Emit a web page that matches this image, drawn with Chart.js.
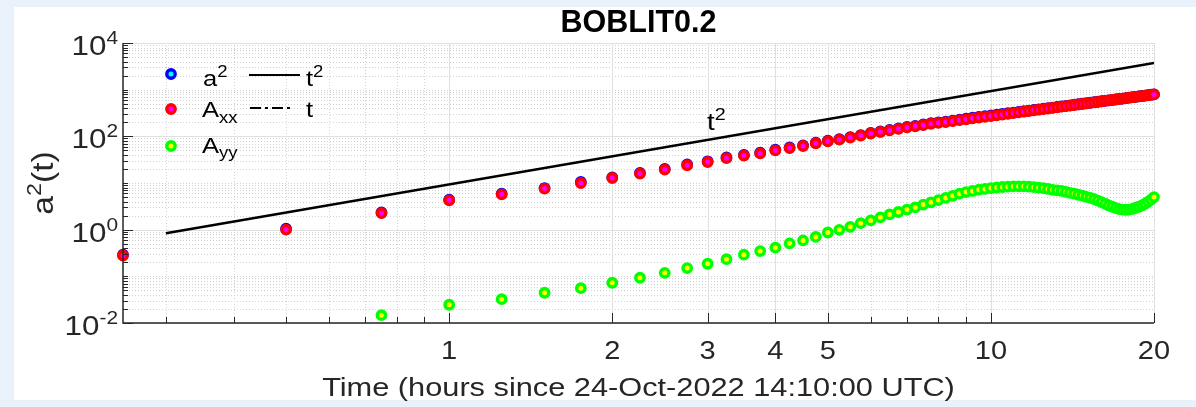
<!DOCTYPE html>
<html>
<head>
<meta charset="utf-8">
<title>BOBLIT0.2</title>
<script src="https://cdn.jsdelivr.net/npm/chart.js@4.4.1/dist/chart.umd.min.js"></script>
<style>
  html, body { margin: 0; padding: 0; background: #ffffff; }
  canvas { display: block; }
</style>
</head>
<body>
<canvas id="chart" width="1196" height="407"></canvas>
<script>
// Sample times (hours since 24-Oct-2022 14:10:00 UTC), every 15 minutes
const hours = [0.25,0.5,0.75,1,1.25,1.5,1.75,2,2.25,2.5,2.75,3,3.25,3.5,3.75,4,4.25,4.5,4.75,5,
  5.25,5.5,5.75,6,6.25,6.5,6.75,7,7.25,7.5,7.75,8,8.25,8.5,8.75,9,9.25,9.5,9.75,10,
  10.25,10.5,10.75,11,11.25,11.5,11.75,12,12.25,12.5,12.75,13,13.25,13.5,13.75,14,14.25,14.5,14.75,15,
  15.25,15.5,15.75,16,16.25,16.5,16.75,17,17.25,17.5,17.75,18,18.25,18.5,18.75,19,19.25,19.5,19.75,20];

// Total spread a^2
const a2 = [0.29,1.05,2.33,4.4,5.9,7.8,10.5,13.2,16.4,20.0,25.0,29.2,35.3,40.0,44.6,51.6,57.7,64,73,80.5,
  87,96.5,106.5,118,127,137,148.5,159,168,179.5,191,200,207,217,228.5,239,250,259.5,270,280,
  290,301,312,323,334.5,345.5,357,368,380,391,402.5,414,426,439,450.5,462,475,487.5,499.5,512,
  525,538.5,551,564,577.5,591.5,604,618,632,645.5,660.5,674.5,689,704,718,733.5,748.5,764,779.5,795];

// Along-x component A_xx
const Axx = [0.28,1.0,2.27,4.25,5.72,7.59,10.0,12.8,15.9,19.4,24.0,28.2,34,38.7,43,50,56,62,71,78.5,
  85,94,104,115,124,134,145,155,164,175,186,195,202,211,222,232,243,252,262,272,
  282,293,304,315,326,337,349,360,372,383,395,407,419,432,444,456,469,482,494,507,
  520,534,547,560,574,588,601,615,629,643,658,672,686,701,715,730,745,760,775,790];

// Along-y component A_yy (first two samples fall below the axis range)
const Ayy = [null,null,0.0147,0.0246,0.0324,0.0445,0.0558,0.0729,0.0933,0.119,0.150,0.186,0.233,0.291,0.347,0.411,0.51,0.589,0.70,0.87,
  0.99,1.15,1.38,1.58,1.84,2.12,2.39,2.69,3.0,3.45,3.85,4.3,4.8,5.3,5.9,6.4,6.75,7.2,7.45,7.8,
  8.0,8.2,8.35,8.45,8.5,8.5,8.35,8.15,7.95,7.75,7.45,7.15,6.95,6.75,6.45,6.15,5.9,5.6,5.35,5.05,
  4.8,4.5,4.2,3.9,3.6,3.3,3.1,2.9,2.75,2.7,2.67,2.7,2.8,2.95,3.1,3.3,3.6,3.95,4.4,5.0];

// Reference t^2 power law
const fitT = [0.3, 20];
const fitY = [0.84, 3720];

// Axis ticks
const xTickValues = [1, 2, 3, 4, 5, 10, 20];
const xTickLabels = ['1', '2', '3', '4', '5', '10', '20'];
const xMinorValues = [0.3, 0.4, 0.5, 0.6, 0.7, 0.8, 0.9, 6, 7, 8, 9];
const yTickValues = [0.01, 1, 100, 10000];
const yTickExponents = ['-2', '0', '2', '4'];

const FONT = '"Liberation Sans", Arial, Helvetica, sans-serif';
const TEXT = '#262626';
const SX = 1.16; // horizontal text stretch

const styles = {
  a2:  { edge: '#0000ff', fill: '#00ffff' },
  Axx: { edge: '#ff0000', fill: '#ff00ff' },
  Ayy: { edge: '#00ff00', fill: '#ffff00' }
};
const MARK_R = 4.2, MARK_W = 3.4;

function pts(ys) {
  const out = [];
  hours.forEach((t, i) => { if (ys[i] !== null) out.push({ x: t, y: ys[i] }); });
  return out;
}

// Rich text: parts = [{t, size, dy, bold}], drawn at baseline y
function rich(ctx, parts, x, y, align, color, sx) {
  const k = sx || SX;
  ctx.save();
  let w = 0;
  parts.forEach(p => {
    ctx.font = (p.bold ? 'bold ' : '') + p.size + 'px ' + FONT;
    p.w = ctx.measureText(p.t).width * k;
    w += p.w;
  });
  let cx = x;
  if (align === 'center') cx = x - w / 2;
  else if (align === 'right') cx = x - w;
  ctx.fillStyle = color || TEXT;
  ctx.textBaseline = 'alphabetic';
  ctx.textAlign = 'left';
  parts.forEach(p => {
    ctx.font = (p.bold ? 'bold ' : '') + p.size + 'px ' + FONT;
    ctx.save();
    ctx.translate(cx, y + (p.dy || 0));
    ctx.scale(k, 1);
    ctx.fillText(p.t, 0, 0);
    ctx.restore();
    cx += p.w;
  });
  ctx.restore();
  return w;
}

function marker(ctx, x, y, st) {
  ctx.save();
  ctx.beginPath();
  ctx.arc(x, y, MARK_R, 0, Math.PI * 2);
  ctx.fillStyle = st.fill;
  ctx.fill();
  ctx.lineWidth = MARK_W;
  ctx.strokeStyle = st.edge;
  ctx.stroke();
  ctx.restore();
}

const decorations = {
  id: 'decorations',
  beforeDraw(chart) {
    const ctx = chart.ctx;
    ctx.save();
    ctx.fillStyle = '#e9f1fa';
    ctx.fillRect(0, 0, chart.width, chart.height);
    ctx.fillStyle = '#ffffff';
    ctx.fillRect(14, 7, chart.width - 14, 393);
    ctx.restore();
  },
  beforeDatasetsDraw(chart) {
    const ctx = chart.ctx;
    const a = chart.chartArea;
    const xs = chart.scales.x, ys = chart.scales.y;
    ctx.save();
    // minor grid (dotted)
    ctx.strokeStyle = '#d2d2d2';
    ctx.lineWidth = 1;
    ctx.setLineDash([1, 2]);
    xMinorValues.forEach(v => {
      const px = Math.round(xs.getPixelForValue(v)) + 0.5;
      ctx.beginPath(); ctx.moveTo(px, a.top); ctx.lineTo(px, a.bottom); ctx.stroke();
    });
    for (let e = -2; e < 4; e++) {
      for (let m = 1; m <= 9; m++) {
        if (m === 1 && e % 2 === 0) continue;
        const v = m * Math.pow(10, e);
        const py = Math.round(ys.getPixelForValue(v)) + 0.5;
        ctx.beginPath(); ctx.moveTo(a.left, py); ctx.lineTo(a.right, py); ctx.stroke();
      }
    }
    // major grid (solid)
    ctx.setLineDash([]);
    ctx.strokeStyle = '#e0e0e0';
    xTickValues.forEach(v => {
      const px = Math.round(xs.getPixelForValue(v)) + 0.5;
      ctx.beginPath(); ctx.moveTo(px, a.top); ctx.lineTo(px, a.bottom); ctx.stroke();
    });
    yTickValues.forEach(v => {
      const py = Math.round(ys.getPixelForValue(v)) + 0.5;
      ctx.beginPath(); ctx.moveTo(a.left, py); ctx.lineTo(a.right, py); ctx.stroke();
    });
    ctx.restore();
  },
  afterDatasetsDraw(chart) {
    const ctx = chart.ctx;
    const a = chart.chartArea;
    const xs = chart.scales.x, ys = chart.scales.y;
    ctx.save();
    // axes lines
    ctx.strokeStyle = TEXT;
    ctx.lineWidth = 1.5;
    ctx.beginPath();
    ctx.moveTo(a.left, a.top); ctx.lineTo(a.left, a.bottom); ctx.lineTo(a.right, a.bottom);
    ctx.stroke();
    // inward ticks
    ctx.lineWidth = 1;
    const tick = (x1, y1, x2, y2) => { ctx.beginPath(); ctx.moveTo(x1, y1); ctx.lineTo(x2, y2); ctx.stroke(); };
    xTickValues.forEach(v => { const px = Math.round(xs.getPixelForValue(v)) + 0.5; tick(px, a.bottom, px, a.bottom - 10); });
    xMinorValues.forEach(v => { const px = Math.round(xs.getPixelForValue(v)) + 0.5; tick(px, a.bottom, px, a.bottom - 6); });
    for (let e = -2; e <= 4; e++) {
      for (let m = 1; m <= 9; m++) {
        if (e === 4 && m > 1) break;
        const v = m * Math.pow(10, e);
        const py = Math.round(ys.getPixelForValue(v)) + 0.5;
        const major = (m === 1 && e % 2 === 0);
        tick(a.left, py, a.left + (major ? 10 : 5), py);
      }
    }
    ctx.restore();

    // x tick labels
    xTickValues.forEach((v, i) => {
      rich(ctx, [{ t: xTickLabels[i], size: 25 }], xs.getPixelForValue(v), a.bottom + 36, 'center');
    });
    // y tick labels 10^n
    yTickValues.forEach((v, i) => {
      const py = ys.getPixelForValue(v);
      rich(ctx, [{ t: '10', size: 27 }, { t: yTickExponents[i], size: 18, dy: -11 }], 118, py + 12, 'right');
    });
    // title
    rich(ctx, [{ t: 'BOBLIT0.2', size: 30.5, bold: true }], (a.left + a.right) / 2, 32, 'center', '#000000', 1);
    // x axis title
    rich(ctx, [{ t: 'Time (hours since 24-Oct-2022 14:10:00 UTC)', size: 26.5 }], (a.left + a.right) / 2, 396, 'center');
    // y axis title (rotated)
    ctx.save();
    ctx.translate(53, (a.top + a.bottom) / 2);
    ctx.rotate(-Math.PI / 2);
    rich(ctx, [{ t: 'a', size: 29 }, { t: '2', size: 20, dy: -12 }, { t: '(t)', size: 29 }], 0, 0, 'center');
    ctx.restore();

    // legend
    marker(ctx, 171, 74, styles.a2);
    marker(ctx, 171, 109, styles.Axx);
    marker(ctx, 171, 146, styles.Ayy);
    rich(ctx, [{ t: 'a', size: 22 }, { t: '2', size: 16, dy: -9 }], 203, 86, 'left', '#000');
    rich(ctx, [{ t: 'A', size: 22 }, { t: 'xx', size: 16, dy: 6 }], 202, 117, 'left', '#000');
    rich(ctx, [{ t: 'A', size: 22 }, { t: 'yy', size: 16, dy: 5 }], 202, 153, 'left', '#000');
    ctx.save();
    ctx.strokeStyle = '#000';
    ctx.lineWidth = 2.2;
    ctx.beginPath(); ctx.moveTo(249, 75); ctx.lineTo(300, 75); ctx.stroke();
    ctx.setLineDash([11, 4, 3, 4]);
    ctx.beginPath(); ctx.moveTo(250, 108); ctx.lineTo(294, 108); ctx.stroke();
    ctx.restore();
    rich(ctx, [{ t: 't', size: 22 }, { t: '2', size: 16, dy: -9 }], 306, 86, 'left', '#000');
    rich(ctx, [{ t: 't', size: 22 }], 306, 117, 'left', '#000');

    // annotation on the power-law line
    rich(ctx, [{ t: 't', size: 24 }, { t: '2', size: 17, dy: -10 }], 707, 130, 'left', '#000');
  }
};

const pointDS = (label, ys, st, order) => ({
  label, data: pts(ys), order,
  showLine: false,
  pointRadius: MARK_R, pointHoverRadius: MARK_R,
  pointBorderWidth: MARK_W,
  pointBorderColor: st.edge, pointBackgroundColor: st.fill,
  borderColor: st.edge, backgroundColor: st.fill,
  clip: false
});

new Chart(document.getElementById('chart'), {
  type: 'scatter',
  data: {
    datasets: [
      pointDS('a²', a2, styles.a2, 2),
      pointDS('A_xx', Axx, styles.Axx, 1),
      pointDS('A_yy', Ayy, styles.Ayy, 0),
      {
        label: 't²', type: 'line', order: 3,
        data: fitT.map((t, i) => ({ x: t, y: fitY[i] })),
        showLine: true, borderColor: '#000', borderWidth: 2.5, pointRadius: 0, fill: false
      },
      {
        label: 't', type: 'line', order: 4, data: [],
        showLine: true, borderColor: '#000', borderWidth: 2, borderDash: [11, 4, 3, 4], pointRadius: 0
      }
    ]
  },
  options: {
    responsive: false,
    animation: false,
    devicePixelRatio: 1,
    layout: { padding: { top: 43, right: 42, left: 0, bottom: 0 }, autoPadding: false },
    plugins: { legend: { display: false }, title: { display: false }, tooltip: { enabled: false } },
    scales: {
      x: {
        type: 'logarithmic', min: 0.25, max: 20, position: 'bottom',
        afterBuildTicks: s => { s.ticks = xTickValues.map(v => ({ value: v })); },
        afterFit: s => { s.height = 84; },
        ticks: { display: false },
        grid: { display: false },
        border: { display: false }
      },
      y: {
        type: 'logarithmic', min: 0.01, max: 10000, position: 'left',
        afterBuildTicks: s => { s.ticks = yTickValues.map(v => ({ value: v })); },
        afterFit: s => { s.width = 123; },
        ticks: { display: false },
        grid: { display: false },
        border: { display: false }
      }
    }
  },
  plugins: [decorations]
});
</script>
</body>
</html>
